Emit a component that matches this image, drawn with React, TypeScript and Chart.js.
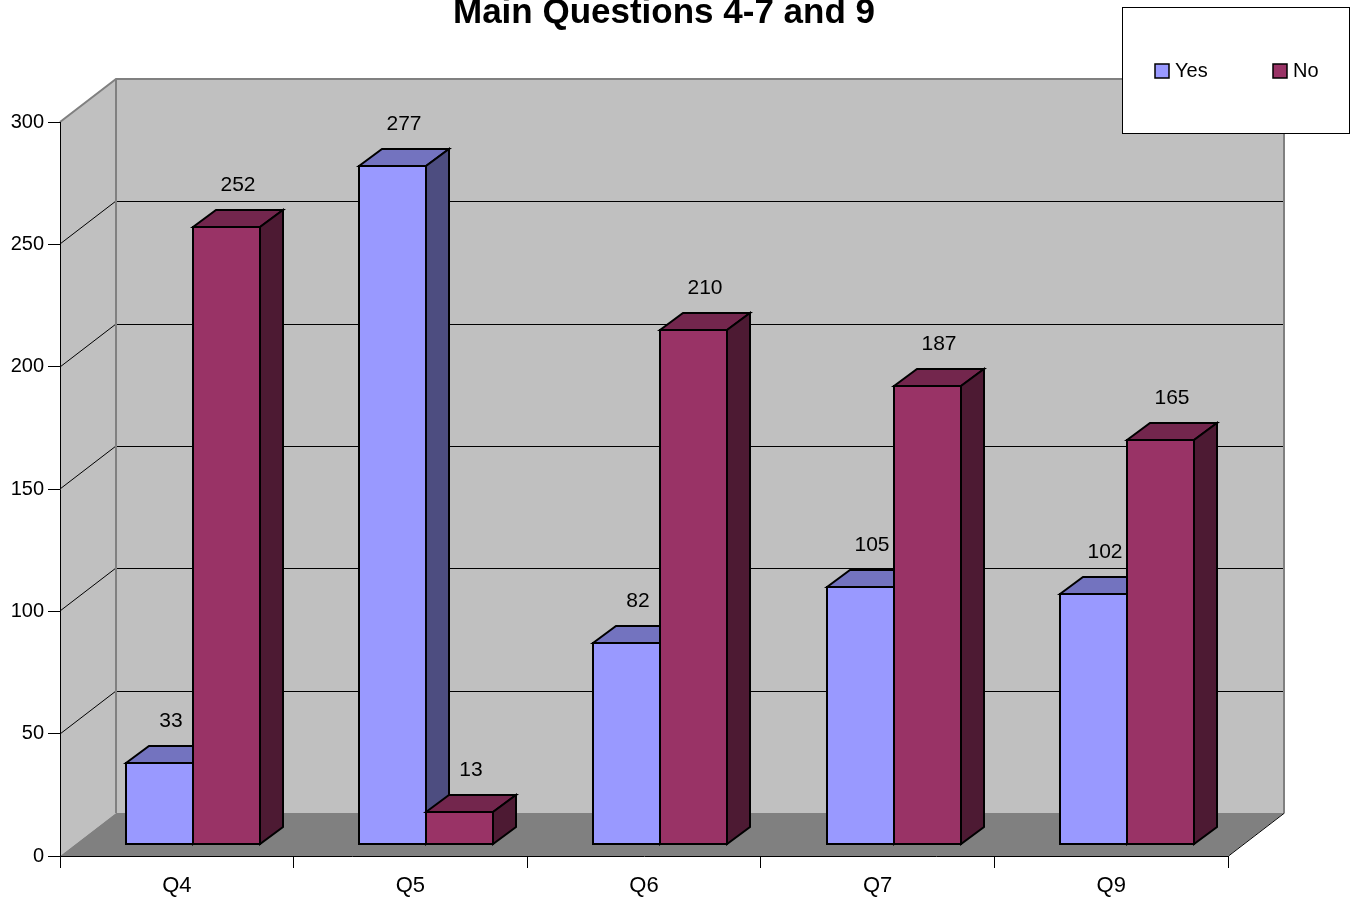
import { useEffect, useRef } from 'react';
import { Chart, registerables } from 'chart.js';

Chart.register(...registerables);

const chartTitle = 'Main Questions 4-7 and 9';
const categories = ['Q4', 'Q5', 'Q6', 'Q7', 'Q9'];
const seriesNames = ['Yes', 'No'];
const yesValues = [33, 277, 82, 105, 102];
const noValues = [252, 13, 210, 187, 165];
const yTickValues = [0, 50, 100, 150, 200, 250, 300];

const FONT = '"Liberation Sans", Arial, Helvetica, sans-serif';

// 3D geometry (pixels)
const WALL_DX = 56;
const WALL_DY = -43;
const BAR_DX = 16;
const BAR_DY = -12;
const DEPTH_DX = 23;
const DEPTH_DY = -17;

const palette = [
  { front: '#9999ff', top: '#7373bf', side: '#4d4d80' },
  { front: '#993366', top: '#73264d', side: '#4d1a33' },
];

function poly(ctx: CanvasRenderingContext2D, pts: number[][]) {
  ctx.beginPath();
  ctx.moveTo(pts[0][0], pts[0][1]);
  for (let i = 1; i < pts.length; i++) ctx.lineTo(pts[i][0], pts[i][1]);
  ctx.closePath();
}

const threeDPlugin = {
  id: 'threeD',
  beforeDraw(chart: any) {
    const { ctx, chartArea: a, scales } = chart;
    const y = scales.y;
    const L = a.left, R = a.right, T = a.top, B = a.bottom;
    ctx.save();
    // left wall
    ctx.fillStyle = '#c0c0c0';
    poly(ctx, [[L, T], [L + WALL_DX, T + WALL_DY], [L + WALL_DX, B + WALL_DY], [L, B]]);
    ctx.fill();
    // back wall
    ctx.fillRect(L + WALL_DX, T + WALL_DY, R - L, B - T);
    // floor
    ctx.fillStyle = '#808080';
    poly(ctx, [[L, B], [R, B], [R + WALL_DX, B + WALL_DY], [L + WALL_DX, B + WALL_DY]]);
    ctx.fill();
    // gridlines
    ctx.strokeStyle = '#000';
    ctx.lineWidth = 1;
    yTickValues.slice(1, -1).forEach((v) => {
      const py = Math.round(y.getPixelForValue(v));
      ctx.beginPath();
      ctx.moveTo(L + WALL_DX, py + WALL_DY + 0.5);
      ctx.lineTo(R + WALL_DX, py + WALL_DY + 0.5);
      ctx.stroke();
      ctx.beginPath();
      ctx.moveTo(L, py);
      ctx.lineTo(L + WALL_DX, py + WALL_DY);
      ctx.stroke();
    });
    // floor right edge
    ctx.beginPath();
    ctx.moveTo(R + 0.5, B);
    ctx.lineTo(R + WALL_DX + 0.5, B + WALL_DY);
    ctx.stroke();
    // wall edges (gray)
    ctx.strokeStyle = '#808080';
    ctx.lineWidth = 2;
    ctx.beginPath();
    ctx.moveTo(L, T);
    ctx.lineTo(L + WALL_DX, T + WALL_DY);
    ctx.lineTo(R + WALL_DX, T + WALL_DY);
    ctx.lineTo(R + WALL_DX, B + WALL_DY);
    ctx.stroke();
    ctx.beginPath();
    ctx.moveTo(L + WALL_DX, T + WALL_DY);
    ctx.lineTo(L + WALL_DX, B + WALL_DY);
    ctx.stroke();
    ctx.restore();
  },
  afterDatasetsDraw(chart: any) {
    const { ctx } = chart;
    ctx.save();
    ctx.lineWidth = 2;
    ctx.lineJoin = 'miter';
    ctx.strokeStyle = '#000';
    const labels: { x: number; y: number; t: string }[] = [];
    chart.data.datasets.forEach((ds: any, di: number) => {
      const meta = chart.getDatasetMeta(di);
      const col = palette[di];
      meta.data.forEach((el: any, i: number) => {
        const p = el.getProps(['x', 'y', 'base', 'width'], true);
        const x0 = Math.round(p.x - p.width / 2 + BAR_DX);
        const x1 = Math.round(p.x + p.width / 2 + BAR_DX);
        const yt = Math.round(p.y + BAR_DY);
        const yb = Math.round(p.base + BAR_DY);
        // front
        ctx.fillStyle = col.front;
        poly(ctx, [[x0, yt], [x1, yt], [x1, yb], [x0, yb]]);
        ctx.fill();
        ctx.stroke();
        // top
        ctx.fillStyle = col.top;
        poly(ctx, [[x0, yt], [x0 + DEPTH_DX, yt + DEPTH_DY], [x1 + DEPTH_DX, yt + DEPTH_DY], [x1, yt]]);
        ctx.fill();
        ctx.stroke();
        // side
        ctx.fillStyle = col.side;
        poly(ctx, [[x1, yt], [x1 + DEPTH_DX, yt + DEPTH_DY], [x1 + DEPTH_DX, yb + DEPTH_DY], [x1, yb]]);
        ctx.fill();
        ctx.stroke();
        labels.push({ x: (x0 + x1) / 2 + DEPTH_DX / 2, y: yt - 42, t: String(ds.data[i]) });
      });
    });
    ctx.fillStyle = '#000';
    ctx.font = `21px ${FONT}`;
    ctx.textAlign = 'center';
    ctx.textBaseline = 'middle';
    labels.forEach((l) => ctx.fillText(l.t, l.x, l.y));
    ctx.restore();
  },
  afterDraw(chart: any) {
    const { ctx } = chart;
    ctx.save();
    // title
    ctx.fillStyle = '#000';
    ctx.font = `bold 35px ${FONT}`;
    ctx.textAlign = 'center';
    ctx.textBaseline = 'alphabetic';
    ctx.fillText(chartTitle, 664, 23);
    // legend box
    ctx.fillStyle = '#fff';
    ctx.fillRect(1122, 7, 227, 126);
    ctx.strokeStyle = '#000';
    ctx.lineWidth = 1;
    ctx.strokeRect(1122.5, 7.5, 227, 126);
    const itemX = [1155, 1273];
    chart.data.datasets.forEach((ds: any, di: number) => {
      const x = itemX[di];
      ctx.fillStyle = palette[di].front;
      ctx.fillRect(x, 64, 14, 14);
      ctx.lineWidth = 1.5;
      ctx.strokeStyle = '#000';
      ctx.strokeRect(x, 64, 14, 14);
      ctx.fillStyle = '#000';
      ctx.font = `20px ${FONT}`;
      ctx.textAlign = 'left';
      ctx.textBaseline = 'middle';
      ctx.fillText(ds.label, x + 20, 71);
    });
    ctx.restore();
  },
};

export default function App() {
  const ref = useRef<HTMLCanvasElement>(null);
  useEffect(() => {
    const chart = new Chart(ref.current as HTMLCanvasElement, {
      type: 'bar',
      data: {
        labels: categories,
        datasets: [
          {
            label: seriesNames[0],
            data: yesValues,
            backgroundColor: 'rgba(0,0,0,0)',
            borderWidth: 0,
            categoryPercentage: 0.5736,
            barPercentage: 1,
          },
          {
            label: seriesNames[1],
            data: noValues,
            backgroundColor: 'rgba(0,0,0,0)',
            borderWidth: 0,
            categoryPercentage: 0.5736,
            barPercentage: 1,
          },
        ],
      },
      options: {
        responsive: false,
        animation: false,
        devicePixelRatio: 1,
        layout: { padding: { left: 0, right: 124, top: 122, bottom: 0 } },
        plugins: {
          legend: { display: false },
          title: { display: false },
          tooltip: { enabled: false },
        },
        scales: {
          x: {
            type: 'category',
            offset: true,
            grid: { drawOnChartArea: false, drawTicks: true, tickLength: 12, color: '#000', offset: true },
            border: { display: true, color: '#000', width: 1 },
            ticks: { color: '#000', font: { family: FONT, size: 22 }, padding: 5, maxRotation: 0 },
            afterFit: (s: any) => {
              s.height = 44;
            },
          },
          y: {
            min: 0,
            max: 300,
            grid: { drawOnChartArea: false, drawTicks: true, tickLength: 12, color: '#000' },
            border: { display: true, color: '#000', width: 1 },
            ticks: { color: '#000', font: { family: FONT, size: 20 }, padding: 4 },
            afterBuildTicks: (s: any) => {
              s.ticks = yTickValues.map((v) => ({ value: v }));
            },
            afterFit: (s: any) => {
              s.width = 60;
            },
          },
        },
      },
      plugins: [threeDPlugin],
    } as any);
    return () => chart.destroy();
  }, []);
  return (
    <div style={{ position: 'absolute', left: 0, top: 0, width: 1352, height: 900, background: '#fff' }}>
      <canvas ref={ref} width={1352} height={900} style={{ display: 'block', width: 1352, height: 900 }} />
    </div>
  );
}
